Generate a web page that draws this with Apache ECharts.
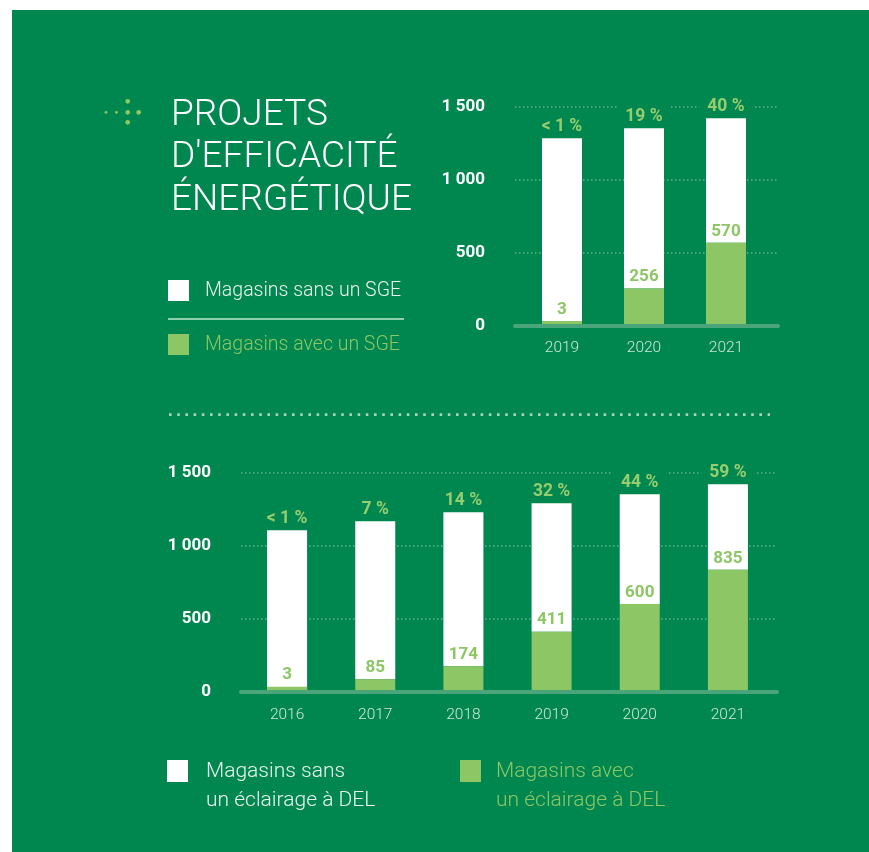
<!DOCTYPE html>
<html>
<head>
<meta charset="utf-8">
<script src="https://cdn.jsdelivr.net/npm/echarts@6/dist/echarts.min.js"></script>
<style>
html,body{margin:0;padding:0;background:#ffffff;width:869px;height:852px;overflow:hidden;}
#bg{position:absolute;left:12px;top:10px;width:857px;height:842px;background:#00874f;}
#chart{position:absolute;left:0;top:0;width:869px;height:852px;}
</style>
</head>
<body>
<div id="bg"></div>
<div id="chart"></div>
<script>
// ---- data ----
const sgeYears = ['2019', '2020', '2021'];
const sgeWith = [3, 256, 570];
const sgeWithout = [1283, 1098, 853];
const sgePct = ['< 1 %', '19 %', '40 %'];

const ledYears = ['2016', '2017', '2018', '2019', '2020', '2021'];
const ledWith = [3, 85, 174, 411, 600, 835];
const ledWithout = [1103, 1083, 1055, 880, 752, 586];
const ledPct = ['< 1 %', '7 %', '14 %', '32 %', '44 %', '59 %'];

const yTickLabels = ['0', '500', '1 000', '1 500'];

const titleLines = ['PROJETS', "D'EFFICACITÉ", 'ÉNERGÉTIQUE'];
const sgeNames = ['Magasins sans un SGE', 'Magasins avec un SGE'];
const ledNames = ['Magasins sans\nun éclairage à DEL', 'Magasins avec\nun éclairage à DEL'];

// ---- styles ----
const BG = '#00874f';
const GREEN = '#8cc665';
const PCT = '#97cd6e';
const AXISC = '#4aa67a';
const GRIDC = '#5db58a';
const YEARC = '#cfe6d9';
const FONT = 'Roboto';

const chart = echarts.init(document.getElementById('chart'));

function valueAxisBg(grid) {
  return {
    gridIndex: grid, type: 'value', min: 0, max: 1500, interval: 500,
    axisLine: {show: false}, axisTick: {show: false},
    axisLabel: {
      color: '#ffffff', fontWeight: 'bold', fontSize: 17, fontFamily: FONT, margin: 30,
      formatter: v => yTickLabels[Math.round(v / 500)]
    },
    splitLine: {show: true, lineStyle: {color: GRIDC, width: 1.5, type: [1.5, 2.5]}}
  };
}
function valueAxisHidden(grid) {
  return {gridIndex: grid, type: 'value', min: 0, max: 1500, interval: 500, show: false, splitLine: {show: false}};
}
function baseLineAxis(grid) {
  return {
    gridIndex: grid, type: 'value', min: 0, max: 1, z: 10,
    axisLine: {show: true, onZero: false, lineStyle: {color: AXISC, width: 4}},
    axisTick: {show: false}, axisLabel: {show: false}, splitLine: {show: false}
  };
}
function catAxis(grid, data, margin) {
  return {
    gridIndex: grid, type: 'category', data: data,
    axisLine: {show: false}, axisTick: {show: false},
    axisLabel: {color: YEARC, fontSize: 15.5, fontFamily: FONT, fontWeight: 300, margin: margin},
    splitLine: {show: false}
  };
}
function withSeries(name, axis, stack, data) {
  return {
    type: 'bar', name: name, xAxisIndex: axis, yAxisIndex: axis, stack: stack, data: data,
    barWidth: 40, barMinHeight: 5, z: 3,
    itemStyle: {color: GREEN},
    label: {show: true, position: 'top', distance: 3, color: GREEN, fontWeight: 'bold', fontSize: 17, fontFamily: FONT}
  };
}
function withoutSeries(name, axis, stack, data, pct) {
  return {
    type: 'bar', name: name, xAxisIndex: axis, yAxisIndex: axis, stack: stack, data: data,
    barWidth: 40, z: 2,
    itemStyle: {color: '#ffffff'},
    label: {
      show: true, position: 'top', distance: 3, color: PCT, fontWeight: 'bold', fontSize: 17.5, fontFamily: FONT,
      backgroundColor: BG, padding: [4, 8, 0, 8],
      formatter: p => pct[p.dataIndex]
    }
  };
}

const graphics = [];
// decorative dots
[[106, 112.3, 1.4], [116.5, 112.3, 1.4], [127.7, 112.3, 2.4], [138.7, 112.3, 2.4], [127.7, 101.3, 2.4], [127.7, 122.3, 2.4]]
  .forEach(d => graphics.push({type: 'circle', shape: {cx: d[0], cy: d[1], r: d[2]}, style: {fill: GREEN}}));
// top legend
graphics.push({type: 'rect', shape: {x: 168, y: 280, width: 21, height: 21}, style: {fill: '#ffffff'}});
graphics.push({type: 'text', style: {x: 205, y: 291.5, text: sgeNames[0], fill: '#e9f5ee', fontSize: 19.5, fontWeight: 300, fontFamily: FONT, textVerticalAlign: 'middle'}});
graphics.push({type: 'line', shape: {x1: 168, y1: 319, x2: 404, y2: 319}, style: {stroke: '#8fcfac', lineWidth: 2}});
graphics.push({type: 'rect', shape: {x: 168, y: 334, width: 21, height: 21}, style: {fill: GREEN}});
graphics.push({type: 'text', style: {x: 205, y: 345.5, text: sgeNames[1], fill: GREEN, fontSize: 19.5, fontWeight: 300, fontFamily: FONT, textVerticalAlign: 'middle'}});
// dotted separator
graphics.push({type: 'line', shape: {x1: 169, y1: 414.6, x2: 770, y2: 414.6}, style: {stroke: '#a5d3ba', lineWidth: 2.6, lineDash: [2.6, 5.6]}});
// bottom legend
graphics.push({type: 'rect', shape: {x: 167, y: 760, width: 21, height: 22}, style: {fill: '#ffffff'}});
graphics.push({type: 'text', style: {x: 206, y: 757.5, text: ledNames[0], fill: '#e9f5ee', fontSize: 21, fontWeight: 300, fontFamily: FONT, lineHeight: 28.5, textVerticalAlign: 'top'}});
graphics.push({type: 'rect', shape: {x: 460, y: 760, width: 21, height: 22}, style: {fill: GREEN}});
graphics.push({type: 'text', style: {x: 496, y: 757.5, text: ledNames[1], fill: GREEN, fontSize: 21, fontWeight: 300, fontFamily: FONT, lineHeight: 28.5, textVerticalAlign: 'top'}});

const option = {
  backgroundColor: 'transparent',
  animation: false,
  title: {
    text: titleLines.join('\n'), left: 171, top: 94, padding: 0,
    textStyle: {color: '#ffffff', fontSize: 37, fontWeight: 300, fontFamily: FONT, lineHeight: 42.5}
  },
  grid: [
    {left: 515, top: 107, width: 263, height: 219},
    {left: 521, top: 107, width: 246, height: 219},
    {left: 241, top: 472.7, width: 536, height: 219},
    {left: 243, top: 472.7, width: 529, height: 219}
  ],
  xAxis: [
    baseLineAxis(0),
    catAxis(1, sgeYears, 14),
    baseLineAxis(2),
    catAxis(3, ledYears, 15.5)
  ],
  yAxis: [
    valueAxisBg(0), valueAxisHidden(1), valueAxisBg(2), valueAxisHidden(3)
  ],
  series: [
    withSeries(sgeNames[1], 1, 'sge', sgeWith),
    withoutSeries(sgeNames[0], 1, 'sge', sgeWithout, sgePct),
    withSeries(ledNames[1], 3, 'led', ledWith),
    withoutSeries(ledNames[0], 3, 'led', ledWithout, ledPct)
  ],
  graphic: graphics
};
chart.setOption(option);
</script>
</body>
</html>
